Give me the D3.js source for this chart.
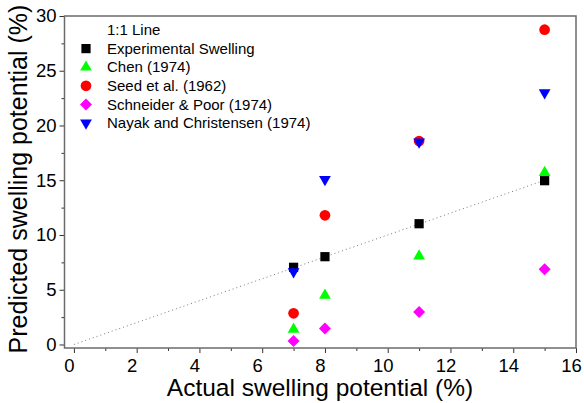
<!DOCTYPE html>
<html>
<head>
<meta charset="utf-8">
<script src="https://cdn.jsdelivr.net/npm/d3@7"></script>
<style>
  body { margin: 0; background: #fff; }
  text { font-family: "Liberation Sans", Arial, sans-serif; }
</style>
</head>
<body>
<div id="chart"></div>
<script>
// Data
const actual = [7, 8, 11, 15];
const experimental = [7.05, 8.02, 11.03, 14.96];
const chen = [1.39, 4.49, 8.08, 15.7];
const seed = [2.85, 11.8, 18.58, 28.75];
const schneider = [0.32, 1.45, 2.97, 6.87];
const nayak = [6.65, 15.08, 18.5, 23.0];
const xTicks = [0, 2, 4, 6, 8, 10, 12, 14, 16];
const yTicks = [0, 5, 10, 15, 20, 25, 30];
const lineEnds = [0, 15];

const series = [
  { name: "Experimental Swelling", values: experimental, color: "#000000", shape: "square" },
  { name: "Chen (1974)", values: chen, color: "#00ff00", shape: "up" },
  { name: "Seed et al. (1962)", values: seed, color: "#ff0000", shape: "circle" },
  { name: "Schneider & Poor (1974)", values: schneider, color: "#ff00ff", shape: "diamond" },
  { name: "Nayak and Christensen (1974)", values: nayak, color: "#0000ff", shape: "down" }
];

const W = 584, H = 403;
const frame = { left: 64.5, right: 576, top: 16, bottom: 348 };

const svg = d3.select("#chart").append("svg")
  .attr("width", W).attr("height", H);

const x = d3.scaleLinear().domain([-0.3, 16]).range([frame.left, frame.right]);
const y = d3.scaleLinear().domain([-0.32, 30]).range([frame.bottom, frame.top]);

// marker paths
function markerPath(shape) {
  if (shape === "square") return d3.symbol().type(d3.symbolSquare).size(85)();
  if (shape === "circle") return d3.symbol().type(d3.symbolCircle).size(90)();
  if (shape === "up" || shape === "down") return d3.symbol().type(d3.symbolTriangle).size(60)();
  if (shape === "diamond") return d3.symbol().type(d3.symbolSquare).size(72)();
}
function markerRot(shape) {
  if (shape === "down") return 180;
  if (shape === "diamond") return 45;
  return 0;
}

// axes
const xAxis = svg.append("g")
  .attr("transform", `translate(0,${frame.bottom})`)
  .call(d3.axisBottom(x).tickValues(xTicks).tickSize(5).tickSizeOuter(0).tickPadding(6));
const xMinor = svg.append("g")
  .attr("transform", `translate(0,${frame.bottom})`)
  .call(d3.axisBottom(x).tickValues(d3.range(1, 16, 2)).tickSize(3).tickSizeOuter(0).tickFormat(""));

const yAxis = svg.append("g")
  .attr("transform", `translate(${frame.left},0)`)
  .call(d3.axisLeft(y).tickValues(yTicks).tickSize(5).tickSizeOuter(0).tickPadding(3));
const yMinor = svg.append("g")
  .attr("transform", `translate(${frame.left},0)`)
  .call(d3.axisLeft(y).tickValues(d3.range(2.5, 30, 5)).tickSize(3).tickSizeOuter(0).tickFormat(""));

[xAxis, xMinor, yAxis, yMinor].forEach(g => {
  g.select(".domain").remove();
  g.selectAll("line").attr("stroke", "#333").attr("stroke-width", 1);
  g.selectAll("text").attr("font-size", 18.5).attr("fill", "#000")
    .style("font-family", "'Liberation Sans', Arial, sans-serif");
});
// tick labels sit a little left of their ticks in the original
xAxis.selectAll("text").attr("dx", -5);

// frame
svg.append("rect")
  .attr("x", frame.left).attr("y", frame.top)
  .attr("width", frame.right - frame.left).attr("height", frame.bottom - frame.top)
  .attr("fill", "none").attr("stroke", "#6b6b6b").attr("stroke-width", 1.5);

// 1:1 line
svg.append("line")
  .attr("x1", x(lineEnds[0])).attr("y1", y(lineEnds[0]))
  .attr("x2", x(lineEnds[1])).attr("y2", y(lineEnds[1]))
  .attr("stroke", "#555").attr("stroke-width", 0.8)
  .attr("stroke-dasharray", "1,3");

// points
series.forEach(s => {
  svg.append("g").selectAll("path")
    .data(s.values)
    .enter()
    .append("path")
      .attr("d", markerPath(s.shape))
      .attr("transform", (d, i) => `translate(${x(actual[i])},${y(d)}) rotate(${markerRot(s.shape)})`)
      .attr("fill", s.color);
});

// legend
const legend = svg.append("g");
legend.append("text")
  .attr("x", 107).attr("y", 30).attr("dy", "0.35em")
  .attr("font-size", 15).text("1:1 Line");
series.forEach((s, i) => {
  const yy = 48.6 + i * 18.6;
  legend.append("path")
    .attr("d", markerPath(s.shape))
    .attr("transform", `translate(86,${yy}) rotate(${markerRot(s.shape)})`)
    .attr("fill", s.color);
  legend.append("text")
    .attr("x", 107).attr("y", yy).attr("dy", "0.35em")
    .attr("font-size", 15).text(s.name);
});

// axis titles
svg.append("text")
  .attr("x", 320).attr("y", 396)
  .attr("text-anchor", "middle").attr("font-size", 24.5)
  .text("Actual swelling potential (%)");
svg.append("text")
  .attr("transform", `translate(27,179) rotate(-90)`)
  .attr("text-anchor", "middle").attr("font-size", 25)
  .text("Predicted swelling potential (%)");
</script>
</body>
</html>
